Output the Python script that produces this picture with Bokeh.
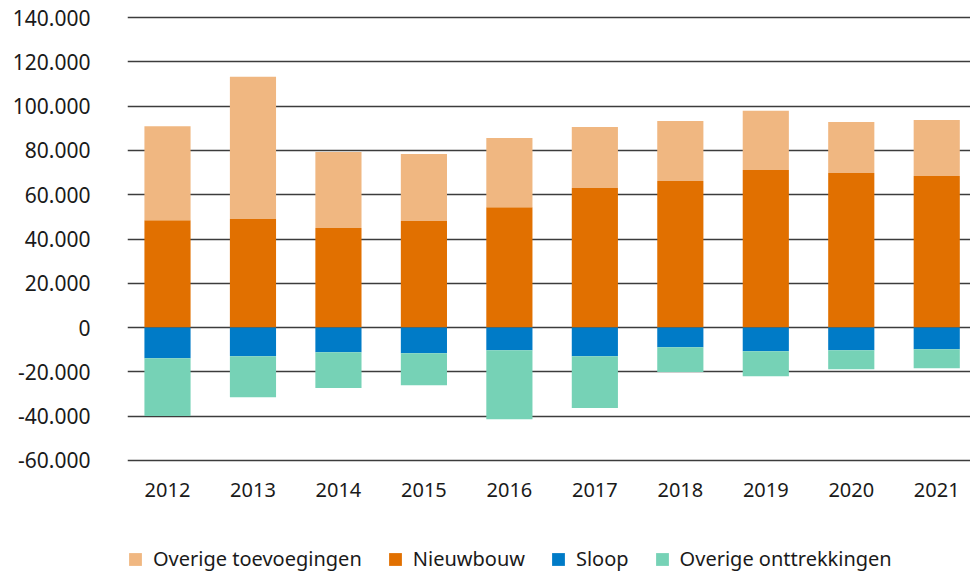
from bokeh.plotting import figure
from bokeh.layouts import column
from bokeh.models import ColumnDataSource, Legend, LegendItem, Range1d, FixedTicker
from bokeh.embed import file_html
from bokeh.resources import INLINE

years = [2012, 2013, 2014, 2015, 2016, 2017, 2018, 2019, 2020, 2021]
nieuwbouw = [48500, 49000, 45000, 48100, 54400, 63000, 66200, 71200, 69800, 68500]
overige_toevoegingen = [42500, 64300, 34300, 30300, 31200, 27600, 27100, 26700, 23100, 25300]
sloop = [-13900, -13000, -11200, -11600, -10300, -13000, -8900, -10700, -10300, -9800]
overige_onttrekkingen = [-26100, -18500, -16100, -14500, -31100, -23400, -11200, -11300, -8600, -8600]

y_ticks = [-60000, -40000, -20000, 0, 20000, 40000, 60000, 80000, 100000, 120000, 140000]
y_labels = ["-60.000", "-40.000", "-20.000", "0", "20.000", "40.000", "60.000",
            "80.000", "100.000", "120.000", "140.000"]

series_labels = ["Overige toevoegingen", "Nieuwbouw", "Sloop", "Overige onttrekkingen"]
series_fields = ["tov", "nieuwbouw", "sloop", "ontt"]

c_tov = "#f0b781"
c_nb = "#e17000"
c_sloop = "#007bc7"
c_ontt = "#76d2b6"
series_colors = [c_tov, c_nb, c_sloop, c_ontt]

source = ColumnDataSource(dict(
    year=years, nieuwbouw=nieuwbouw, tov=overige_toevoegingen,
    sloop=sloop, ontt=overige_onttrekkingen,
))

FONT = "Noto Sans"
TXT = "#1a1a1a"

p = figure(width=970, height=520, output_backend="svg", toolbar_location=None,
           x_range=Range1d(2011.532, 2021.395), y_range=Range1d(-61000, 141000),
           min_border_left=127, min_border_right=0, min_border_top=15,
           min_border_bottom=58)
p.outline_line_color = None

pos = p.vbar_stack(["nieuwbouw", "tov"], x="year", width=0.54, source=source,
                   color=[c_nb, c_tov], line_color=None)
neg = p.vbar_stack(["sloop", "ontt"], x="year", width=0.54, source=source,
                   color=[c_sloop, c_ontt], line_color=None)

p.xgrid.grid_line_color = None
p.ygrid.ticker = FixedTicker(ticks=y_ticks)
p.ygrid.grid_line_color = "#3c3c3c"
p.ygrid.grid_line_width = 1.5

p.yaxis.ticker = FixedTicker(ticks=y_ticks)
p.yaxis.major_label_overrides = {t: l for t, l in zip(y_ticks, y_labels)}
p.yaxis.axis_line_color = None
p.yaxis.major_tick_line_color = None
p.yaxis.minor_tick_line_color = None
p.yaxis.major_label_standoff = 31
p.yaxis.major_label_text_font = FONT
p.yaxis.major_label_text_font_size = "21px"
p.yaxis.major_label_text_color = TXT

p.xaxis.ticker = FixedTicker(ticks=years)
p.xaxis.major_label_overrides = {y: str(y) for y in years}
p.xaxis.axis_line_color = None
p.xaxis.major_tick_line_color = None
p.xaxis.minor_tick_line_color = None
p.xaxis.major_label_standoff = 14
p.xaxis.major_label_text_font = FONT
p.xaxis.major_label_text_font_size = "20px"
p.xaxis.major_label_text_color = TXT

# legend strip: a second figure whose only visible content is the legend
pl = figure(width=970, height=52, output_backend="svg", toolbar_location=None,
            x_range=Range1d(0, 1), y_range=Range1d(0, 1),
            x_axis_location=None, y_axis_location=None,
            min_border_left=0, min_border_right=0, min_border_top=0, min_border_bottom=0)
pl.outline_line_color = None
pl.xgrid.grid_line_color = None
pl.ygrid.grid_line_color = None

items = []
for lab, fld, col in zip(series_labels, series_fields, series_colors):
    # bars lie outside this strip's x range, so only their legend swatch shows
    r = pl.vbar(x="year", top=fld, width=0.5, source=source, color=col, line_color=None)
    items.append(LegendItem(label=lab, renderers=[r]))

legend = Legend(items=items, orientation="horizontal", location=(0, 0))
legend.glyph_width = 16
legend.glyph_height = 16
legend.label_standoff = 10
legend.spacing = 25
legend.padding = 0
legend.margin = 0
legend.border_line_color = None
legend.background_fill_alpha = 0
legend.label_text_font = FONT
legend.label_text_font_size = "20px"
legend.label_text_color = TXT
legend.label_height = 20
pl.add_layout(legend, "center")

layout = column(p, pl, spacing=0)
open("out.html", "w").write(file_html(layout, INLINE))
